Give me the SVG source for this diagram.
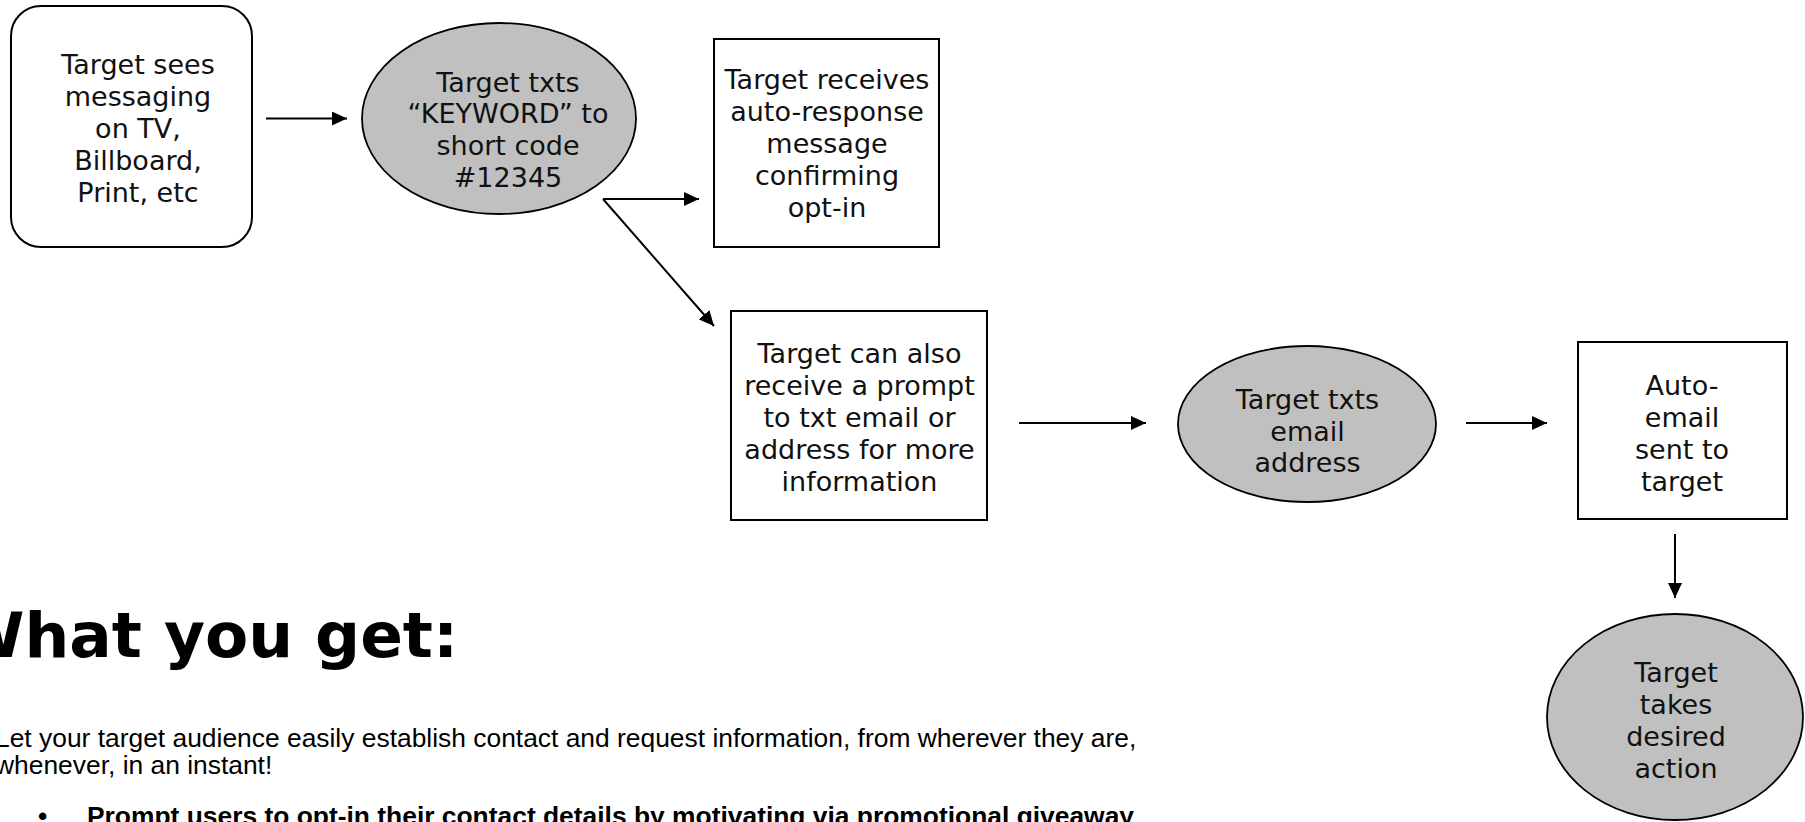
<svg xmlns="http://www.w3.org/2000/svg" width="1805" height="822" viewBox="0 0 1805 822">
  <style>
    .box { fill: #ffffff; stroke: #000000; stroke-width: 2; }
    .oval { fill: #c0c0c0; stroke: #000000; stroke-width: 1.8; }
    .lbl { font-family: "DejaVu Sans", Verdana, sans-serif; font-size: 27px; fill: #111111; text-anchor: middle; }
    .wire { fill: none; stroke: #000000; stroke-width: 2; }
    .head { font-family: "DejaVu Sans", Verdana, sans-serif; font-weight: bold; font-size: 63px; fill: #000000; }
    .body { font-family: "Liberation Sans", Arial, sans-serif; font-size: 26.4px; fill: #000000; }
    .bold { font-weight: bold; }
  </style>
  <defs>
    <marker id="arrow" markerUnits="userSpaceOnUse" markerWidth="16" markerHeight="14" refX="15" refY="7" orient="auto">
      <path d="M0,0 L15,7 L0,14 z" fill="#000000"/>
    </marker>
  </defs>
  <rect width="1805" height="822" fill="#ffffff"/>

  <!-- flow connectors -->
  <g id="connectors">
    <path class="wire" d="M266,118.5 H347" marker-end="url(#arrow)"/>
    <path class="wire" d="M603,199 H699" marker-end="url(#arrow)"/>
    <path class="wire" d="M603,199 L714,326" marker-end="url(#arrow)"/>
    <path class="wire" d="M1019,423 H1146" marker-end="url(#arrow)"/>
    <path class="wire" d="M1466,423 H1547" marker-end="url(#arrow)"/>
    <path class="wire" d="M1675,534 V598" marker-end="url(#arrow)"/>
  </g>

  <g id="node-sees">
    <rect class="box" x="11" y="6" width="241" height="241" rx="30" ry="30"/>
    <text class="lbl" x="138" y="74">Target sees</text>
    <text class="lbl" x="138" y="106">messaging</text>
    <text class="lbl" x="138" y="138">on TV,</text>
    <text class="lbl" x="138" y="170">Billboard,</text>
    <text class="lbl" x="138" y="202">Print, etc</text>
  </g>

  <g id="node-keyword">
    <ellipse class="oval" cx="499" cy="118.5" rx="137" ry="95.5"/>
    <text class="lbl" x="508" y="91.7">Target txts</text>
    <text class="lbl" x="508" y="122.7">“KEYWORD” to</text>
    <text class="lbl" x="508" y="155">short code</text>
    <text class="lbl" x="508" y="187">#12345</text>
  </g>

  <g id="node-autoresponse">
    <rect class="box" x="714" y="39" width="225" height="208"/>
    <text class="lbl" x="827" y="89">Target receives</text>
    <text class="lbl" x="827" y="121">auto-response</text>
    <text class="lbl" x="827" y="153">message</text>
    <text class="lbl" x="827" y="185">confirming</text>
    <text class="lbl" x="827" y="217">opt-in</text>
  </g>

  <g id="node-prompt">
    <rect class="box" x="731" y="311" width="256" height="209"/>
    <text class="lbl" x="859.5" y="363">Target can also</text>
    <text class="lbl" x="859.5" y="395">receive a prompt</text>
    <text class="lbl" x="859.5" y="427">to txt email or</text>
    <text class="lbl" x="859.5" y="459">address for more</text>
    <text class="lbl" x="859.5" y="491">information</text>
  </g>

  <g id="node-email">
    <ellipse class="oval" cx="1307" cy="424" rx="129" ry="78"/>
    <text class="lbl" x="1307.5" y="409">Target txts</text>
    <text class="lbl" x="1307.5" y="441">email</text>
    <text class="lbl" x="1307.5" y="472">address</text>
  </g>

  <g id="node-autoemail">
    <rect class="box" x="1578" y="342" width="209" height="177"/>
    <text class="lbl" x="1682" y="395">Auto-</text>
    <text class="lbl" x="1682" y="427">email</text>
    <text class="lbl" x="1682" y="459">sent to</text>
    <text class="lbl" x="1682" y="491">target</text>
  </g>

  <g id="node-action">
    <ellipse class="oval" cx="1675" cy="717" rx="128" ry="103"/>
    <text class="lbl" x="1676" y="682">Target</text>
    <text class="lbl" x="1676" y="714">takes</text>
    <text class="lbl" x="1676" y="746">desired</text>
    <text class="lbl" x="1676" y="778">action</text>
  </g>

  <!-- page copy below the flow -->
  <g id="copy">
    <text class="head" x="-45" y="657">What you get:</text>
    <text class="body" x="-5" y="747">Let your target audience easily establish contact and request information, from wherever they are,</text>
    <text class="body" x="-5" y="774">whenever, in an instant!</text>
    <text class="body bold" x="38" y="825">•</text>
    <text class="body bold" x="87" y="825">Prompt users to opt-in their contact details by motivating via promotional giveaway</text>
  </g>
</svg>
